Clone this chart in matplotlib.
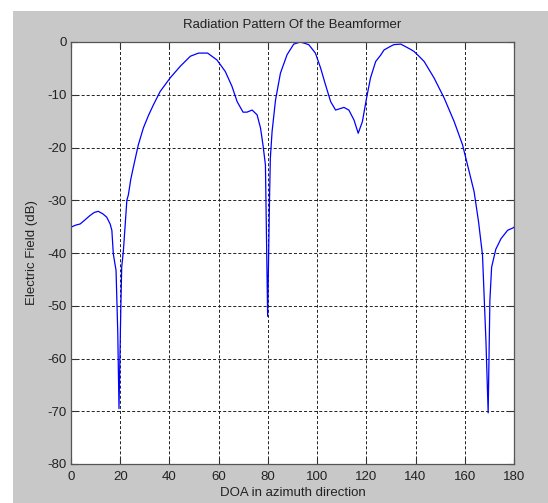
import matplotlib
matplotlib.use("Agg")
import matplotlib.pyplot as plt
from matplotlib.patches import Rectangle

# Beamformer response: direction of arrival (deg) vs. electric field (dB)
doa = [0, 2, 3.7, 5.5, 7.7, 9.5, 11.1, 13, 14.5, 15.9,
       16.6, 17.2, 18.3, 19.0, 19.5, 20.2, 20.6, 21.3, 22.7, 23.3,
       24.3, 25.4, 27.3, 29.4, 31.5, 33.5, 36.2, 40.3, 44.4, 48.5,
       51.8, 55.5, 59.3, 62.7, 65.4, 67.5, 69.9, 71.5, 73.6, 75.6,
       77.0, 78.0, 79.0, 79.9, 80.7, 81.0, 81.7, 83.1, 85.1, 87.8,
       90.5, 93.2, 96.6, 99.3, 101.4, 103.4, 105.5, 107.5, 110.9, 112.9,
       115.0, 116.7, 118.4, 120.1, 121.7, 123.8, 125.8, 127.2, 129.9, 131.2,
       134.0, 138.0, 139.4, 141.4, 143.5, 147.5, 151.6, 155.7, 159.1, 161.8,
       163.8, 165.6, 167.2, 168.6, 169.5, 170.2, 170.9, 172.6, 174.7, 177.4,
       179.8, 180]
field_db = [-35.1, -34.7, -34.5, -33.8, -32.9, -32.3, -32.1, -32.6, -33.2, -34.5,
            -35.7, -40.2, -43.3, -55.0, -69.5, -51.5, -42.7, -39.5, -30.0, -29.0,
            -26.0, -23.6, -19.6, -16.3, -13.9, -11.9, -9.4, -6.8, -4.6, -2.7,
            -2.1, -2.1, -3.4, -5.6, -8.4, -11.3, -13.3, -13.3, -12.9, -13.8,
            -16.3, -19.5, -23.3, -52.0, -28.8, -22.0, -17.0, -11.0, -5.9, -2.4,
            -0.4, 0.0, -0.5, -2.1, -4.9, -8.1, -11.3, -12.9, -12.4, -12.9,
            -14.8, -17.3, -15.1, -10.6, -6.8, -3.7, -2.5, -1.5, -0.8, -0.5,
            -0.4, -1.4, -1.8, -2.7, -3.7, -6.8, -10.6, -15.1, -19.5, -24.6,
            -28.4, -34.1, -40.4, -56.7, -70.3, -49.0, -42.7, -39.3, -37.3, -35.7,
            -35.2, -35.1]

x_ticks = [0, 20, 40, 60, 80, 100, 120, 140, 160, 180]
y_ticks = [0, -10, -20, -30, -40, -50, -60, -70, -80]

plt.rcParams['font.family'] = ['Liberation Sans', 'DejaVu Sans']
plt.rcParams['axes.unicode_minus'] = False

W, H = 548, 503
fig = plt.figure(figsize=(W / 100, H / 100), dpi=100, facecolor='white')
fig.add_artist(Rectangle((13 / W, 0), 1 - 13 / W, (H - 11) / H,
                         transform=fig.transFigure, facecolor='#c8c8c8',
                         edgecolor='none', zorder=-10))

ax = fig.add_axes([71 / W, (H - 464) / H, (514 - 71) / W, (464 - 42) / H])
ax.set_zorder(5)
ax.set_facecolor('white')
ax.plot(doa, field_db, color='#0000ff', linewidth=0.9)

ax.set_xlim(0, 180)
ax.set_ylim(-80, 0)
ax.set_xticks(x_ticks)
ax.set_yticks(y_ticks)
ax.tick_params(direction='in', length=4, width=0.8, labelsize=9.5,
               top=True, right=True, colors='#333333', labelcolor='#222222')
ax.tick_params(axis='x', pad=5)
ax.tick_params(axis='y', pad=3)
ax.grid(True, color='#222222', linestyle=(0, (3.1, 2.1)), linewidth=0.7)
for s in ax.spines.values():
    s.set_color('#555555')
    s.set_linewidth(0.9)

ax.set_title('Radiation Pattern Of the Beamformer', fontsize=9.5, color='#222222', pad=10)
ax.set_xlabel('DOA in azimuth direction', fontsize=9.5, color='#222222', labelpad=3)
ax.set_ylabel('Electric Field (dB)', fontsize=9.5, color='#222222', labelpad=7)

fig.savefig('out.png', dpi=100, facecolor=fig.get_facecolor())
